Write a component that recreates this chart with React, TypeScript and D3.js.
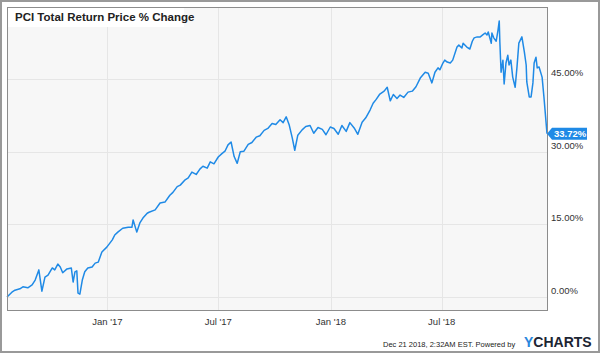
import { useMemo } from 'react'
import * as d3 from 'd3'

// PCI total return price % change
const dates = [
  '2016-07-21', '2016-07-29', '2016-08-03', '2016-08-11', '2016-08-16', '2016-08-24', '2016-08-31',
  '2016-09-05', '2016-09-11', '2016-09-16', '2016-09-21', '2016-09-26', '2016-10-03', '2016-10-07',
  '2016-10-12', '2016-10-16', '2016-10-20', '2016-10-27', '2016-11-03', '2016-11-06', '2016-11-09',
  '2016-11-12', '2016-11-14', '2016-11-17', '2016-11-21', '2016-11-25', '2016-11-30', '2016-12-07',
  '2016-12-12', '2016-12-17', '2016-12-23', '2016-12-31', '2017-01-09', '2017-01-13', '2017-01-18',
  '2017-01-26', '2017-02-04', '2017-02-10', '2017-02-12', '2017-02-18', '2017-02-23', '2017-02-28',
  '2017-03-07', '2017-03-10', '2017-03-20', '2017-03-28', '2017-04-05', '2017-04-13', '2017-04-18',
  '2017-04-25', '2017-04-30', '2017-05-08', '2017-05-13', '2017-05-19', '2017-05-26', '2017-06-01',
  '2017-06-06', '2017-06-13', '2017-06-18', '2017-06-24', '2017-07-01', '2017-07-07', '2017-07-12',
  '2017-07-17', '2017-07-22', '2017-07-27', '2017-08-01', '2017-08-06', '2017-08-12', '2017-08-19',
  '2017-08-25', '2017-09-01', '2017-09-07', '2017-09-14', '2017-09-20', '2017-09-27', '2017-10-03',
  '2017-10-10', '2017-10-15', '2017-10-20', '2017-10-25', '2017-10-30', '2017-11-03', '2017-11-08',
  '2017-11-15', '2017-11-21', '2017-11-28', '2017-12-04', '2017-12-11', '2017-12-18', '2017-12-24',
  '2017-12-31', '2018-01-06', '2018-01-13', '2018-01-19', '2018-01-26', '2018-02-01', '2018-02-08',
  '2018-02-14', '2018-02-21', '2018-02-27', '2018-03-06', '2018-03-11', '2018-03-16', '2018-03-22',
  '2018-03-29', '2018-04-03', '2018-04-08', '2018-04-13', '2018-04-19', '2018-04-24', '2018-04-30',
  '2018-05-07', '2018-05-14', '2018-05-20', '2018-05-27', '2018-06-04', '2018-06-09', '2018-06-15',
  '2018-06-20', '2018-06-25', '2018-06-28', '2018-07-03', '2018-07-06', '2018-07-10', '2018-07-15',
  '2018-07-19', '2018-07-26', '2018-07-29', '2018-08-03', '2018-08-05', '2018-08-11', '2018-08-16',
  '2018-08-20', '2018-08-23', '2018-08-28', '2018-09-02', '2018-09-06', '2018-09-10', '2018-09-13',
  '2018-09-15', '2018-09-20', '2018-09-21', '2018-09-24', '2018-09-28', '2018-10-01', '2018-10-03',
  '2018-10-04', '2018-10-06', '2018-10-09', '2018-10-11', '2018-10-14', '2018-10-17', '2018-10-19',
  '2018-10-22', '2018-10-25', '2018-10-29', '2018-11-01', '2018-11-04', '2018-11-09', '2018-11-13',
  '2018-11-16', '2018-11-17', '2018-11-21', '2018-11-24', '2018-11-27', '2018-11-29', '2018-12-02',
  '2018-12-04', '2018-12-07', '2018-12-12', '2018-12-15', '2018-12-20',
]

const pctChange = [
  0.0, 1.0, 1.4, 1.7, 2.1, 1.9, 2.5,
  3.5, 5.6, 1.2, 4.1, 4.5, 6.0, 5.6,
  6.8, 6.2, 5.0, 5.8, 6.0, 3.1, 5.2,
  5.4, 0.8, 0.6, 3.5, 5.2, 6.0, 6.2,
  7.0, 7.2, 9.3, 10.3, 11.8, 12.8, 13.4,
  14.2, 14.4, 14.4, 15.9, 13.4, 15.3, 16.3,
  17.3, 17.5, 18.0, 19.4, 19.6, 21.0, 21.6,
  22.8, 23.1, 24.2, 24.6, 25.8, 25.3, 26.4,
  27.0, 26.6, 27.9, 27.5, 28.9, 29.6, 30.1,
  31.4, 32.0, 29.0, 27.6, 30.0, 30.1, 31.5,
  31.9, 33.0, 33.3, 34.4, 34.8, 35.8, 35.6,
  36.6, 36.0, 37.2, 35.5, 32.8, 30.3, 33.4,
  34.5, 35.2, 35.4, 33.8, 35.0, 34.6, 33.5,
  35.1, 34.8, 33.6, 35.4, 34.2, 36.0, 34.9,
  33.6, 36.1, 37.0, 38.6, 40.0, 40.8, 41.9,
  42.5, 43.3, 40.5, 41.8, 41.0, 41.7, 41.2,
  42.3, 42.5, 43.4, 45.2, 46.4, 46.2, 44.2,
  46.4, 47.3, 46.9, 48.3, 48.9, 48.5, 48.3,
  48.9, 51.6, 52.0, 51.4, 52.4, 51.6, 51.2,
  52.8, 53.5, 53.7, 53.7, 54.1, 54.5, 54.1,
  54.7, 52.4, 54.5, 53.5, 52.8, 55.1, 57.0,
  52.6, 46.4, 48.9, 44.0, 48.3, 49.9, 47.9,
  48.9, 45.4, 43.3, 47.5, 52.4, 53.7, 50.6,
  47.9, 44.4, 41.3, 41.3, 44.2, 48.3, 49.5,
  47.3, 47.5, 45.4, 41.3, 33.72,
]

const yTicks = [0, 15, 30, 45]
const xTickDates = ['2017-01-01', '2017-07-01', '2018-01-01', '2018-07-01']
const xTickLabels = ["Jan '17", "Jul '17", "Jan '18", "Jul '18"]

const title = 'PCI Total Return Price % Change'
const stamp = 'Dec 21 2018, 2:32AM EST.  Powered by'

export default function App() {
  const width = 600
  const height = 353
  const plot = { left: 7, right: 547, top: 7, bottom: 310 }
  const lineColor = '#1f8ae6'
  const font = 'Arial, "Liberation Sans", Helvetica, sans-serif'

  const parse = d3.timeParse('%Y-%m-%d')

  const data = useMemo(
    () => dates.map((d, i) => ({ date: parse(d) as Date, value: pctChange[i] })),
    []
  )

  const x = d3
    .scaleTime()
    .domain([parse('2016-07-21') as Date, parse('2018-12-20') as Date])
    .range([plot.left, plot.right])

  const y = d3.scaleLinear().domain([-2.68, 59.87]).range([plot.bottom, plot.top])

  const line = d3
    .line<{ date: Date; value: number }>()
    .x(d => x(d.date))
    .y(d => y(d.value))

  const last = data[data.length - 1]
  const lastY = y(last.value)

  return (
    <svg
      width={width}
      height={height}
      style={{ position: 'absolute', left: 0, top: 0, fontFamily: font }}
    >
      {/* outer frame */}
      <rect x={1} y={1} width={598} height={351} fill="#fff" stroke="#999" strokeWidth={2} />

      {/* plot area */}
      <rect
        x={plot.left + 0.5}
        y={plot.top + 0.5}
        width={plot.right - plot.left}
        height={plot.bottom - plot.top}
        fill="#f7f7f7"
      />

      {/* grid */}
      {yTicks.map(t => (
        <line
          key={'gy' + t}
          x1={plot.left}
          x2={plot.right}
          y1={Math.round(y(t)) + 0.5}
          y2={Math.round(y(t)) + 0.5}
          stroke="#e6e6e6"
        />
      ))}
      {xTickDates.map(d => {
        const xx = Math.round(x(parse(d) as Date)) + 0.5
        return <line key={'gx' + d} x1={xx} x2={xx} y1={plot.top} y2={plot.bottom} stroke="#e6e6e6" />
      })}

      {/* title box */}
      <rect x={plot.left + 1} y={plot.top + 1} width={176} height={19} fill="#fff" />
      <text x={15} y={21} fontSize={11.5} fontWeight="bold" fill="#222">
        {title}
      </text>

      {/* series */}
      <path d={line(data) ?? ''} fill="none" stroke={lineColor} strokeWidth={1.5} strokeLinejoin="round" />

      {/* plot border */}
      <rect
        x={plot.left + 0.5}
        y={plot.top + 0.5}
        width={plot.right - plot.left}
        height={plot.bottom - plot.top}
        fill="none"
        stroke="#8c8c8c"
      />

      {/* y labels */}
      {yTicks.map(t => (
        <text key={'ty' + t} x={551} y={y(t) - 3} fontSize={9.5} fill="#333">
          {d3.format('.2f')(t) + '%'}
        </text>
      ))}

      {/* x labels */}
      {xTickDates.map((d, i) => (
        <text
          key={'tx' + d}
          x={x(parse(d) as Date)}
          y={325}
          fontSize={9.5}
          textAnchor="middle"
          fill="#333"
        >
          {xTickLabels[i]}
        </text>
      ))}

      {/* last value flag */}
      <path
        d={`M${plot.right},${lastY} L${plot.right + 5},${lastY - 6} H${plot.right + 40} V${lastY + 6} H${plot.right + 5} Z`}
        fill={lineColor}
      />
      <text x={plot.right + 7} y={lastY + 3.5} fontSize={9.5} fontWeight="bold" fill="#fff">
        {d3.format('.2f')(last.value) + '%'}
      </text>

      {/* footer */}
      <text x={383} y={347} fontSize={7.5} fill="#222">
        {stamp}
      </text>
      <text x={524} y={347} fontSize={14} fontWeight="bold">
        <tspan fill="#2a86dc">Y</tspan>
        <tspan fill="#1c2533">CHARTS</tspan>
      </text>
    </svg>
  )
}
